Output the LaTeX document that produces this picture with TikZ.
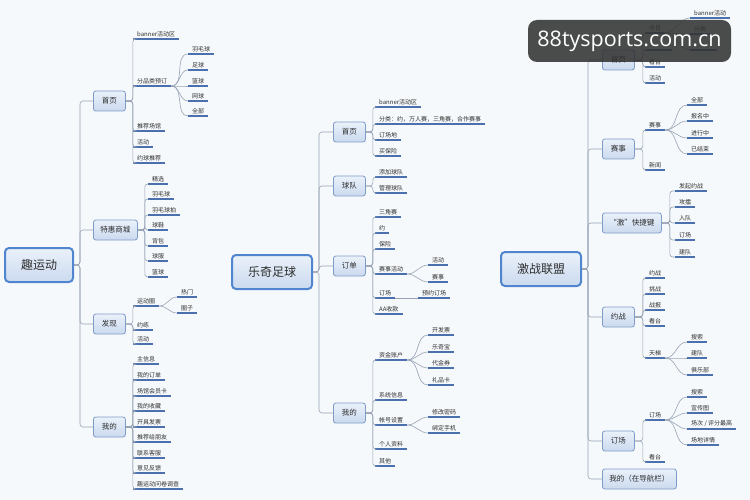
\documentclass[tikz,border=0pt]{standalone}
\usepackage{fontspec}
\setmainfont{Noto Sans CJK SC}
\newfontfamily\wmfont{Open Sans}
\usetikzlibrary{positioning}
\definecolor{bgc}{HTML}{F6F9FB}
\definecolor{connc}{HTML}{97A3B5}
\definecolor{ulc}{HTML}{4A70AE}
\definecolor{subdraw}{HTML}{7F9CC8}
\definecolor{subtop}{HTML}{EAF1FA}
\definecolor{subbot}{HTML}{CBDAEF}
\definecolor{rootdraw}{HTML}{4F86CF}
\definecolor{txt}{HTML}{2E2E2E}
\tikzset{
  root/.style={rectangle,draw=rootdraw,line width=2pt,rounded corners=4pt,top color=subtop,bottom color=subbot,
    text=txt,font=\fontsize{12}{14}\selectfont,inner xsep=16pt,minimum height=34pt},
  sub/.style={rectangle,draw=subdraw,line width=0.8pt,rounded corners=2.5pt,top color=subtop,bottom color=subbot,
    text=txt,font=\fontsize{7.5}{9}\selectfont,inner xsep=7pt,minimum width=32pt,minimum height=20pt,anchor=west},
  leaf/.style={anchor=south west,inner xsep=4pt,inner ysep=1.8pt,text=txt,font=\fontsize{6}{7}\selectfont,
    append after command={(\tikzlastnode.south west) edge[ul] (\tikzlastnode.south east)}},
  ul/.style={draw=ulc,line width=1.3pt},
  conn/.style={draw=connc,line width=0.6pt,rounded corners=3pt},
  curve/.style={draw=connc,line width=0.6pt},
  wmark/.style={rectangle,fill=black!80,fill opacity=0.88,text opacity=1,text=white,rounded corners=9pt,
    font=\wmfont\fontsize{21.5}{24}\selectfont,minimum width=203pt,minimum height=42pt},
}
\begin{document}
\begin{tikzpicture}[x=1pt,y=-1pt]
  \useasboundingbox (0,0) rectangle (750,500);
  \fill[bgc] (0,0) rectangle (750,500);

  % 趣运动
  \node[root,anchor=west] (aR) at (4,265) {趣运动};
  \node[sub] (a1) at (93,101) {首页};
  \node[sub] (a2) at (93,230) {特惠商城};
  \node[sub] (a3) at (93,324) {发现};
  \node[sub] (a4) at (93,427) {我的};
  \foreach \n in {a1,a2,a3,a4} \draw[conn] (aR.east) -- ++(6,0) |- (\n.west);

  \node[leaf] (a1a) at (133,39) {banner活动区};
  \node[leaf] (a1b) at (133,86) {分品类预订};
  \node[leaf] (a1c) at (133,131) {推荐场馆};
  \node[leaf] (a1d) at (133,147) {活动};
  \node[leaf] (a1e) at (133,163) {约球推荐};
  \foreach \n in {a1a,a1b,a1c,a1d,a1e} \draw[conn] (a1.east) -- ++(7,0) |- (\n.south west);
  \node[leaf] (a1b1) at (188,54) {羽毛球};
  \node[leaf] (a1b2) at (188,70) {足球};
  \node[leaf] (a1b3) at (188,86) {篮球};
  \node[leaf] (a1b4) at (188,101) {网球};
  \node[leaf] (a1b5) at (188,116) {全部};
  \foreach \n in {a1b1,a1b2,a1b3,a1b4,a1b5} \draw[curve] (a1b.south east) to[out=0,in=180] (\n.south west);

  \node[leaf] (a2a) at (148,184) {精选};
  \node[leaf] (a2b) at (148,199) {羽毛球};
  \node[leaf] (a2c) at (148,215) {羽毛球拍};
  \node[leaf] (a2d) at (148,230) {球鞋};
  \node[leaf] (a2e) at (148,246) {背包};
  \node[leaf] (a2f) at (148,261) {球服};
  \node[leaf] (a2g) at (148,277) {篮球};
  \foreach \n in {a2a,a2b,a2c,a2d,a2e,a2f,a2g} \draw[conn] (a2.east) -- ++(7,0) |- (\n.south west);

  \node[leaf] (a3a) at (133,306) {运动圈};
  \node[leaf] (a3b) at (133,330) {约练};
  \node[leaf] (a3c) at (133,344) {活动};
  \foreach \n in {a3a,a3b,a3c} \draw[conn] (a3.east) -- ++(7,0) |- (\n.south west);
  \node[leaf] (a3a1) at (177,297) {热门};
  \node[leaf] (a3a2) at (177,313) {圈子};
  \foreach \n in {a3a1,a3a2} \draw[curve] (a3a.south east) to[out=0,in=180] (\n.south west);

  \node[leaf] (a4a) at (133,364) {主信息};
  \node[leaf] (a4b) at (133,380) {我的订单};
  \node[leaf] (a4c) at (133,396) {场馆会员卡};
  \node[leaf] (a4d) at (133,411) {我的收藏};
  \node[leaf] (a4e) at (133,427) {开具发票};
  \node[leaf] (a4f) at (133,442) {推荐给朋友};
  \node[leaf] (a4g) at (133,458) {联系客服};
  \node[leaf] (a4h) at (133,473) {意见反馈};
  \node[leaf] (a4i) at (133,489) {趣运动问卷调查};
  \foreach \n in {a4a,a4b,a4c,a4d,a4e,a4f,a4g,a4h,a4i} \draw[conn] (a4.east) -- ++(7,0) |- (\n.south west);

  % 乐奇足球
  \node[root,anchor=east] (bR) at (313,272) {乐奇足球};
  \node[sub] (b1) at (333,132) {首页};
  \node[sub] (b2) at (333,186) {球队};
  \node[sub] (b3) at (333,266) {订单};
  \node[sub] (b4) at (333,413) {我的};
  \foreach \n in {b1,b2,b3,b4} \draw[conn] (bR.east) -- ++(6,0) |- (\n.west);

  \node[leaf] (b1a) at (375,107) {banner活动区};
  \node[leaf] (b1b) at (375,124) {分类：约，万人赛，三角赛，合作赛事};
  \node[leaf] (b1c) at (375,140) {订场地};
  \node[leaf] (b1d) at (375,156) {买保险};
  \foreach \n in {b1a,b1b,b1c,b1d} \draw[conn] (b1.east) -- ++(7,0) |- (\n.south west);

  \node[leaf] (b2a) at (375,177) {添加球队};
  \node[leaf] (b2b) at (375,193) {管理球队};
  \foreach \n in {b2a,b2b} \draw[conn] (b2.east) -- ++(7,0) |- (\n.south west);

  \node[leaf] (b3a) at (375,217) {三角赛};
  \node[leaf] (b3b) at (375,233) {约};
  \node[leaf] (b3c) at (375,249) {保险};
  \node[leaf] (b3d) at (375,274) {赛事活动};
  \node[leaf] (b3e) at (375,298) {订场};
  \node[leaf] (b3f) at (375,314) {AA收款};
  \foreach \n in {b3a,b3b,b3c,b3d,b3e,b3f} \draw[conn] (b3.east) -- ++(7,0) |- (\n.south west);
  \node[leaf] (b3d1) at (428,265) {活动};
  \node[leaf] (b3d2) at (428,282) {赛事};
  \foreach \n in {b3d1,b3d2} \draw[curve] (b3d.south east) to[out=0,in=180] (\n.south west);
  \node[leaf] (b3e1) at (418,298) {预约订场};
  \draw[curve] (b3e.south east) -- (b3e1.south west);

  \node[leaf] (b4a) at (375,360) {资金账户};
  \node[leaf] (b4b) at (375,400) {系统信息};
  \node[leaf] (b4c) at (375,425) {帐号设置};
  \node[leaf] (b4d) at (375,449) {个人资料};
  \node[leaf] (b4e) at (375,466) {其他};
  \foreach \n in {b4a,b4b,b4c,b4d,b4e} \draw[conn] (b4.east) -- ++(7,0) |- (\n.south west);
  \node[leaf] (b4a1) at (428,335) {开发票};
  \node[leaf] (b4a2) at (428,352) {乐奇宝};
  \node[leaf] (b4a3) at (428,368) {代金券};
  \node[leaf] (b4a4) at (428,385) {礼品卡};
  \foreach \n in {b4a1,b4a2,b4a3,b4a4} \draw[curve] (b4a.south east) to[out=0,in=180] (\n.south west);
  \node[leaf] (b4c1) at (428,417) {修改密码};
  \node[leaf] (b4c2) at (428,433) {绑定手机};
  \foreach \n in {b4c1,b4c2} \draw[curve] (b4c.south east) to[out=0,in=180] (\n.south west);

  % 激战联盟
  \node[root,anchor=east] (cR) at (582,269) {激战联盟};
  \node[sub] (c1) at (602,60) {首页};
  \node[sub] (c2) at (602,149) {赛事};
  \node[sub] (c3) at (602,223) {“激”快捷键};
  \node[sub] (c4) at (602,317) {约战};
  \node[sub] (c5) at (602,441) {订场};
  \node[sub] (c6) at (602,479) {我的（在导航栏）};
  \foreach \n in {c1,c2,c3,c4,c5,c6} \draw[conn] (cR.east) -- ++(6,0) |- (\n.west);

  \node[leaf] (c1a) at (645,33) {今日};
  \node[leaf,minimum width=27pt] (c1b) at (645,50) {};
  \node[leaf] (c1c) at (645,67) {看台};
  \node[leaf] (c1d) at (645,83) {活动};
  \foreach \n in {c1a,c1b,c1c,c1d} \draw[conn] (c1.east) -- ++(8,0) |- (\n.south west);
  \node[leaf] (c1a1) at (690,18) {banner活动};
  \node[leaf] (c1a2) at (690,34) {分类};
  \node[leaf,minimum width=27pt] (c1a3) at (690,50) {};
  \foreach \n in {c1a1,c1a2,c1a3} \draw[curve] (c1a.south east) to[out=0,in=180] (\n.south west);

  \node[leaf] (c2a) at (645,130) {赛事};
  \node[leaf] (c2b) at (645,170) {新闻};
  \foreach \n in {c2a,c2b} \draw[conn] (c2.east) -- ++(8,0) |- (\n.south west);
  \node[leaf] (c2a1) at (687,105) {全部};
  \node[leaf] (c2a2) at (687,121) {报名中};
  \node[leaf] (c2a3) at (687,138) {进行中};
  \node[leaf] (c2a4) at (687,154) {已结束};
  \foreach \n in {c2a1,c2a2,c2a3,c2a4} \draw[curve] (c2a.south east) to[out=0,in=180] (\n.south west);

  \node[leaf] (c3a) at (675,191) {发起约战};
  \node[leaf] (c3b) at (675,207) {攻擂};
  \node[leaf] (c3c) at (675,223) {入队};
  \node[leaf] (c3d) at (675,240) {订场};
  \node[leaf] (c3e) at (675,257) {建队};
  \foreach \n in {c3a,c3b,c3c,c3d,c3e} \draw[conn] (c3.east) -- ++(8,0) |- (\n.south west);

  \node[leaf] (c4a) at (645,278) {约战};
  \node[leaf] (c4b) at (645,294) {挑战};
  \node[leaf] (c4c) at (645,310) {战报};
  \node[leaf] (c4d) at (645,326) {看台};
  \node[leaf] (c4e) at (645,358) {天梯};
  \foreach \n in {c4a,c4b,c4c,c4d,c4e} \draw[conn] (c4.east) -- ++(8,0) |- (\n.south west);
  \node[leaf] (c4e1) at (687,342) {搜索};
  \node[leaf] (c4e2) at (687,358) {建队};
  \node[leaf] (c4e3) at (687,375) {俱乐部};
  \foreach \n in {c4e1,c4e2,c4e3} \draw[curve] (c4e.south east) to[out=0,in=180] (\n.south west);

  \node[leaf] (c5a) at (645,420) {订场};
  \node[leaf] (c5b) at (645,462) {看台};
  \foreach \n in {c5a,c5b} \draw[conn] (c5.east) -- ++(8,0) |- (\n.south west);
  \node[leaf] (c5a1) at (687,397) {搜索};
  \node[leaf] (c5a2) at (687,413) {宣传图};
  \node[leaf] (c5a3) at (687,429) {场次 / 评分最高};
  \node[leaf] (c5a4) at (687,445) {场地详情};
  \foreach \n in {c5a1,c5a2,c5a3,c5a4} \draw[curve] (c5a.south east) to[out=0,in=180] (\n.south west);

  \node[wmark] (wm) at (629.5,41) {88tysports.com.cn};
\end{tikzpicture}
\end{document}
